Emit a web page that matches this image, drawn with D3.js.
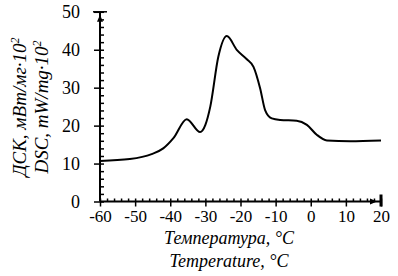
<!DOCTYPE html>
<html>
<head>
<meta charset="utf-8">
<script src="https://cdn.jsdelivr.net/npm/d3@7"></script>
<style>
  body { margin: 0; background: #fff; }
  text { font-family: "Liberation Serif", "Times New Roman", serif; fill: #000; }
</style>
</head>
<body>
<div id="chart"></div>
<script>
// Data
const temps = [-60, -51.5, -45.3, -42, -39.1, -35.3, -31.5, -30, -28.6, -26.3, -23.9, -21, -18.2, -16.3, -14.4, -13, -11.1, -8.7, -4, -1.1, 1.7, 4.6, 11.2, 20]
const dsc = [10.7, 11.2, 12.5, 14, 16.7, 21.7, 18.3, 20.2, 25, 38.2, 43.6, 39.9, 37.5, 35.5, 29.8, 24.1, 21.9, 21.5, 21.3, 20.2, 17.6, 16.1, 15.9, 16.1]
const xTicks = [-60, -50, -40, -30, -20, -10, 0, 10, 20]
const yTicks = [0, 10, 20, 30, 40, 50]

const dataset = temps.map((t, i) => ({ t, v: dsc[i] }))

const width = 398, height = 276

const svg = d3.select('#chart')
  .append('svg')
  .attr('width', width)
  .attr('height', height)

const xScale = d3.scaleLinear().domain([-60, 20]).range([100, 381])
const yScale = d3.scaleLinear().domain([0, 50]).range([201.5, 11.8])

// curve
const line = d3.line()
  .x(d => xScale(d.t))
  .y(d => yScale(d.v))
  .curve(d3.curveMonotoneX)

svg.append('path')
  .datum(dataset)
  .attr('d', line)
  .attr('fill', 'none')
  .attr('stroke', '#000')
  .attr('stroke-width', 2)

// y axis: major ticks to the left, minor to the right
svg.append('g')
  .attr('transform', `translate(${xScale(-60)},0)`)
  .call(d3.axisLeft(yScale).tickValues(yTicks).tickSize(6).tickPadding(14).tickFormat(d => String(d)))
  .selectAll('text').style('font-size', '18px')
svg.append('g')
  .attr('transform', `translate(${xScale(-60)},0)`)
  .call(d3.axisRight(yScale).tickValues(d3.range(0, 51, 2)).tickSize(4).tickFormat(''))

// x axis: major ticks down, minor up (plain hyphen for the minus, as in the picture)
svg.append('g')
  .attr('transform', `translate(0,${yScale(0)})`)
  .call(d3.axisBottom(xScale).tickValues(xTicks).tickSize(5).tickPadding(3).tickFormat(d => String(d)))
  .selectAll('text').style('font-size', '17px')
svg.append('g')
  .attr('transform', `translate(0,${yScale(0)})`)
  .call(d3.axisTop(xScale).tickValues(d3.range(-60, 21, 2)).tickSize(3).tickFormat(''))

svg.selectAll('.domain').remove()
svg.selectAll('.tick line').attr('stroke-width', 1.5)

// axis lines with arrows
svg.append('line')
  .attr('x1', xScale(-60)).attr('x2', xScale(-60))
  .attr('y1', yScale(0)).attr('y2', yScale(50))
  .attr('stroke', '#000').attr('stroke-width', 2)
svg.append('line')
  .attr('x1', xScale(-60)).attr('x2', xScale(20))
  .attr('y1', yScale(0)).attr('y2', yScale(0))
  .attr('stroke', '#000').attr('stroke-width', 2)
svg.append('path')
  .attr('d', `M${xScale(-60)},${yScale(50) + 3} l-3,7 l6,0 z`)
  .attr('fill', '#000')
svg.append('path')
  .attr('d', `M${xScale(20) - 4},${yScale(0)} l-7,-3 l0,6 z`)
  .attr('fill', '#000')
svg.append('line')
  .attr('x1', xScale(-60) - 7).attr('x2', xScale(-60) + 7)
  .attr('y1', yScale(50)).attr('y2', yScale(50))
  .attr('stroke', '#000').attr('stroke-width', 1.5)
svg.append('line')
  .attr('x1', xScale(20)).attr('x2', xScale(20))
  .attr('y1', yScale(0) - 7).attr('y2', yScale(0) + 5)
  .attr('stroke', '#000').attr('stroke-width', 3)

// labels
const yLab = svg.append('text')
  .attr('transform', 'translate(26,107) rotate(-90)')
  .attr('text-anchor', 'middle')
  .style('font-size', '19px')
  .style('font-style', 'italic')
yLab.append('tspan').text('ДСК, мВт/мг·10')
yLab.append('tspan').attr('dy', -7).style('font-size', '12px').text('2')
const yLab2 = svg.append('text')
  .attr('transform', 'translate(48,107) rotate(-90)')
  .attr('text-anchor', 'middle')
  .style('font-size', '19px')
  .style('font-style', 'italic')
yLab2.append('tspan').text('DSC, mW/mg·10')
yLab2.append('tspan').attr('dy', -7).style('font-size', '12px').text('2')

svg.append('text')
  .attr('x', 229).attr('y', 244)
  .attr('text-anchor', 'middle')
  .style('font-size', '18px')
  .style('font-style', 'italic')
  .text('Температура, °C')
svg.append('text')
  .attr('x', 229).attr('y', 267)
  .attr('text-anchor', 'middle')
  .style('font-size', '18px')
  .style('font-style', 'italic')
  .text('Temperature, °C')
</script>
</body>
</html>
